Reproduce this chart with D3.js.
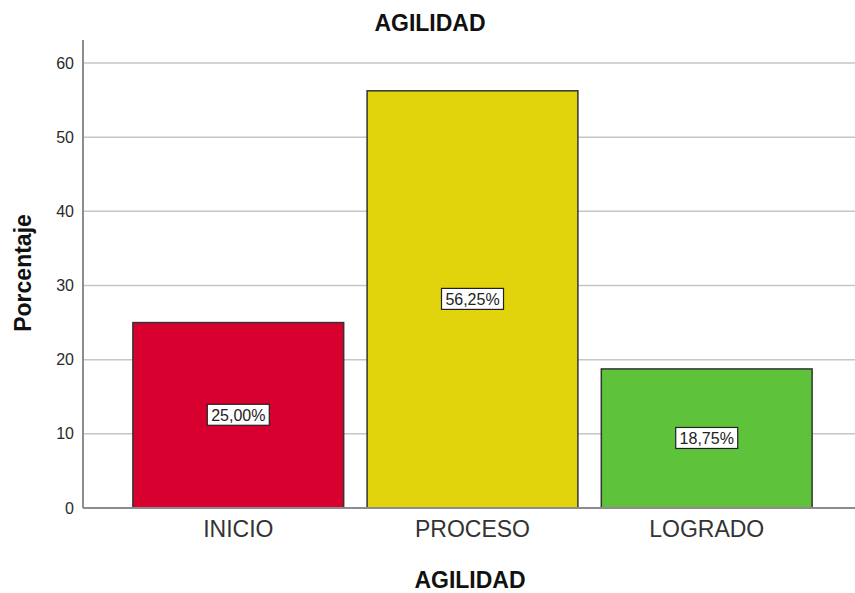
<!DOCTYPE html>
<html>
<head>
<meta charset="utf-8">
<script src="https://cdn.jsdelivr.net/npm/d3@7"></script>
<style>
  html, body { margin: 0; padding: 0; background: #fff; }
  svg { display: block; font-family: "Liberation Sans", Arial, sans-serif; }
</style>
</head>
<body>
<svg id="chart" width="855" height="593"></svg>
<script>
// Frequency of each AGILIDAD level, in percent
const categories = ["INICIO", "PROCESO", "LOGRADO"];
const percentages = [25.00, 56.25, 18.75];
const barColors = ["#d7002f", "#e2d40c", "#5ec23a"];
const yTicks = [0, 10, 20, 30, 40, 50, 60];
const chartTitle = "AGILIDAD";
const xTitle = "AGILIDAD";
const yTitle = "Porcentaje";

const svg = d3.select("#chart");
const W = 855, H = 593;
const plotLeft = 83, plotRight = 862, plotTop = 40, plotBottom = 508;

const x = d3.scaleBand()
  .domain(categories)
  .range([plotLeft, plotRight])
  .paddingInner(0.1)
  .paddingOuter(0.213);

const y = d3.scaleLinear()
  .domain([0, 63.1])
  .range([plotBottom, plotTop]);

const fmt = v => v.toFixed(2).replace(".", ",") + "%";

// horizontal grid lines
svg.append("g")
  .selectAll("line")
  .data(yTicks.filter(t => t > 0))
  .join("line")
  .attr("x1", plotLeft).attr("x2", W)
  .attr("y1", d => y(d)).attr("y2", d => y(d))
  .attr("stroke", "#c6c6c6")
  .attr("stroke-width", 1.5);

// y axis (labels only, no tick marks)
const yAxis = svg.append("g")
  .attr("transform", `translate(${plotLeft},0)`)
  .call(d3.axisLeft(y).tickValues(yTicks).tickSize(0).tickPadding(9).tickFormat(d3.format("d")));
yAxis.select(".domain").remove();
yAxis.selectAll("text")
  .attr("font-size", 16)
  .attr("fill", "#2a2a2a")
  .attr("font-family", "'Liberation Sans', Arial, sans-serif");

// bars
svg.append("g")
  .selectAll("rect")
  .data(categories)
  .join("rect")
  .attr("x", d => x(d))
  .attr("y", (d, i) => y(percentages[i]))
  .attr("width", x.bandwidth())
  .attr("height", (d, i) => y(0) - y(percentages[i]))
  .attr("fill", (d, i) => barColors[i])
  .attr("stroke", "#333")
  .attr("stroke-width", 1.5);

// axis lines
svg.append("line")
  .attr("x1", plotLeft).attr("x2", plotLeft)
  .attr("y1", plotTop).attr("y2", plotBottom)
  .attr("stroke", "#8c8c8c").attr("stroke-width", 2);
svg.append("line")
  .attr("x1", plotLeft).attr("x2", W)
  .attr("y1", plotBottom).attr("y2", plotBottom)
  .attr("stroke", "#8c8c8c").attr("stroke-width", 2);

// value labels in boxes at mid-height of each bar
const labels = svg.append("g")
  .selectAll("g")
  .data(categories)
  .join("g")
  .attr("transform", (d, i) =>
    `translate(${x(d) + x.bandwidth() / 2},${y(percentages[i] / 2)})`);
labels.append("rect")
  .attr("x", -31).attr("y", -11)
  .attr("width", 62).attr("height", 21)
  .attr("fill", "#fff")
  .attr("stroke", "#222")
  .attr("stroke-width", 1.2);
labels.append("text")
  .attr("text-anchor", "middle")
  .attr("dy", "0.33em")
  .attr("font-size", 16)
  .attr("fill", "#222")
  .text((d, i) => fmt(percentages[i]));

// category labels
const xAxis = svg.append("g")
  .attr("transform", `translate(0,${plotBottom})`)
  .call(d3.axisBottom(x).tickSize(0).tickPadding(13));
xAxis.select(".domain").remove();
xAxis.selectAll("text")
  .attr("font-size", 23)
  .attr("fill", "#333")
  .attr("font-family", "'Liberation Sans', Arial, sans-serif");

// titles
svg.append("text")
  .attr("x", 430).attr("y", 31)
  .attr("text-anchor", "middle")
  .attr("font-size", 23).attr("font-weight", "bold").attr("fill", "#111")
  .text(chartTitle);

svg.append("text")
  .attr("x", 470).attr("y", 588)
  .attr("text-anchor", "middle")
  .attr("font-size", 23).attr("font-weight", "bold").attr("fill", "#111")
  .text(xTitle);

svg.append("text")
  .attr("transform", `translate(31,273) rotate(-90)`)
  .attr("text-anchor", "middle")
  .attr("font-size", 23).attr("font-weight", "bold").attr("fill", "#111")
  .text(yTitle);
</script>
</body>
</html>
